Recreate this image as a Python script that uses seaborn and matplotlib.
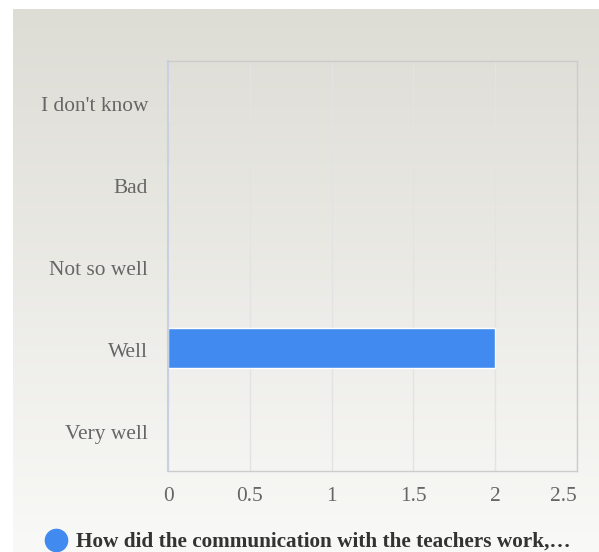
import matplotlib
matplotlib.use("Agg")
import matplotlib.pyplot as plt
import matplotlib.transforms as mtransforms
from matplotlib.lines import Line2D
import numpy as np
import pandas as pd
import seaborn as sns

categories = ["I don't know", "Bad", "Not so well", "Well", "Very well"]
counts = [0, 0, 0, 2, 0]
series_name = "How did the communication with the teachers work,\u2026"
x_ticks = [0, 0.5, 1, 1.5, 2, 2.5]
x_labels = ["0", "0.5", "1", "1.5", "2", "2.5"]

BAR = "#418bf0"

sns.set_theme(style="white")
plt.rcParams["font.family"] = ["Liberation Serif", "DejaVu Serif"]

W, H = 599, 552
fig = plt.figure(figsize=(W / 100, H / 100), dpi=100, facecolor="white")

# gradient panel background
bg = fig.add_axes([13 / W, 0, 1 - 13 / W, 1 - 9 / H], zorder=0)
top = np.array([221, 220, 213]) / 255
bot = np.array([249, 249, 247]) / 255
t = np.linspace(0, 1, 256)[:, None]
grad = (top[None, :] * (1 - t) + bot[None, :] * t)[:, None, :]
bg.imshow(grad, aspect="auto", extent=[0, 1, 0, 1], interpolation="bilinear")
bg.axis("off")

ax = fig.add_axes([168 / W, 81 / H, 409 / W, 410 / H], zorder=1)
ax.patch.set_alpha(0)

df = pd.DataFrame({"category": categories, "count": counts})
sns.barplot(data=df, x="count", y="category", orient="h", color=BAR,
            saturation=1, width=0.49, edgecolor="white", linewidth=1, ax=ax)

ax.set_xlim(0, 2.5)
ax.set_xticks(x_ticks)
ax.set_xticklabels(x_labels)
ax.set_xlabel("")
ax.set_ylabel("")
ax.grid(axis="x", color="#e3e3e3", linewidth=1)
ax.set_axisbelow(True)
ax.tick_params(axis="both", length=0, labelsize=15.4, labelcolor="#666666")
ax.tick_params(axis="x", pad=11.5)
ax.tick_params(axis="y", pad=14.4)
# last x label sits inside the plot edge
ax.get_xticklabels()[-1].set_horizontalalignment("right")
# category labels sit a touch low
shift = mtransforms.ScaledTranslation(0, -2 / 100, fig.dpi_scale_trans)
for lbl in ax.get_yticklabels():
    lbl.set_transform(lbl.get_transform() + shift)
for side in ["top", "right", "bottom"]:
    ax.spines[side].set_color("#cccccc")
    ax.spines[side].set_linewidth(1)
ax.spines["left"].set_color("#c6d1e3")
ax.spines["left"].set_linewidth(1.5)

handle = Line2D([], [], marker="o", linestyle="none", markersize=16,
                markerfacecolor=BAR, markeredgecolor=BAR)
fig.legend(handles=[handle], labels=[series_name], loc="center",
           bbox_to_anchor=(307 / W, 1 - 542 / H), frameon=False,
           handletextpad=0.3, handlelength=1.2,
           prop={"weight": "bold", "size": 15.3}, labelcolor="#333333")

fig.savefig("out.png", dpi=100, facecolor="white")
